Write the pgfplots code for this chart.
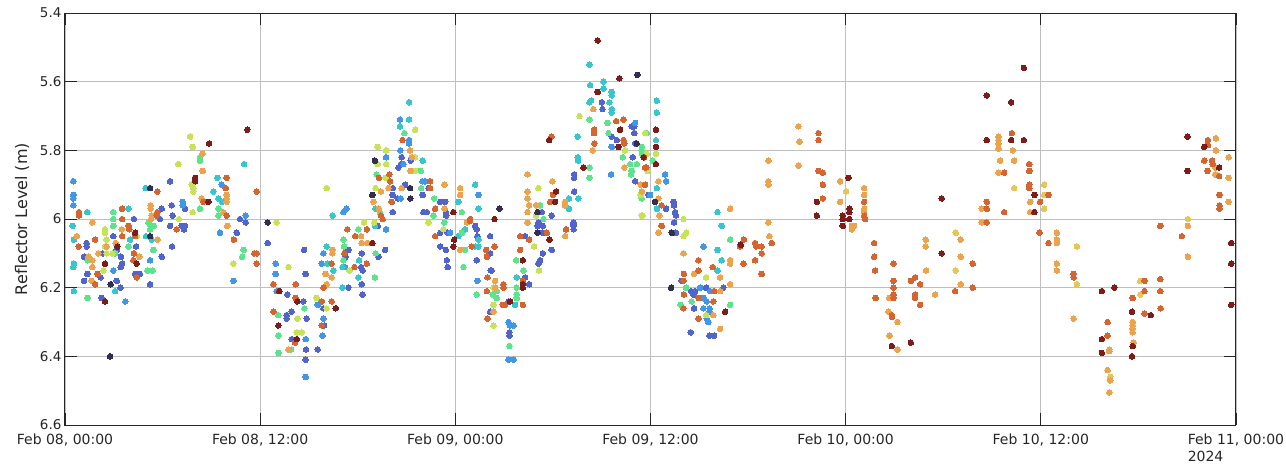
\documentclass[border=0pt]{standalone}
\usepackage{fontspec}
\setmainfont{DejaVu Sans}
\usepackage{pgfplots}
\pgfplotsset{compat=1.18}
\definecolor{cN}{RGB}{50,46,82}
\definecolor{cB}{RGB}{80,100,203}
\definecolor{cL}{RGB}{66,150,230}
\definecolor{cC}{RGB}{55,198,203}
\definecolor{cG}{RGB}{92,227,140}
\definecolor{cY}{RGB}{200,226,88}
\definecolor{cP}{RGB}{228,198,92}
\definecolor{cO}{RGB}{236,163,78}
\definecolor{cR}{RGB}{212,100,48}
\definecolor{cK}{RGB}{125,28,24}
\pgfplotsset{dots/.style={only marks, mark=*, mark size=2.8pt, color=#1, mark options={draw=#1, fill=#1, line width=0pt}}}
\begin{document}
\begin{tikzpicture}
\begin{axis}[
  name=ax,
  scale only axis, width=1171pt, height=412pt,
  xmin=0, xmax=72, ymin=5.4, ymax=6.6, y dir=reverse,
  xtick={0,12,24,36,48,60,72},
  xticklabels={{Feb 08, 00:00},{Feb 08, 12:00},{Feb 09, 00:00},{Feb 09, 12:00},{Feb 10, 00:00},{Feb 10, 12:00},{Feb 11, 00:00\\2024}},
  ytick={5.4,5.6,5.8,6.0,6.2,6.4,6.6},
  yticklabels={5.4,5.6,5.8,6,6.2,6.4,6.6},
  /pgf/number format/assume math mode=true,
  yticklabel style={font=\fontsize{13.5}{15}\selectfont, text=black!85},
  xticklabel style={align=left, font=\fontsize{14}{17}\selectfont, text=black!85, yshift=-5pt},
  ylabel={Reflector Level (m)},
  ylabel style={font=\fontsize{16}{18}\selectfont, text=black!85},
  ylabel shift=4pt,
  grid=major, major grid style={black!25, line width=0.7pt},
  tick align=inside, major tick length=11.7pt,
  tick style={black!85, line width=0.8pt},
  axis line style={black!85, line width=1pt},
]
\addplot[dots=cB] coordinates {
(1.33,6.07)(1.33,6.08)(1.17,6.11)(1.17,6.18)(1.37,6.16)(2.26,6.23)(2.19,6.17)(2.32,6.10)(2.97,6.05)(3.18,6.09)(3.18,6.18)(3.42,6.20)(3.44,6.11)(3.51,6.13)(3.42,6.14)(4.24,6.00)(4.37,6.08)(4.31,6.16)(4.61,6.16)(5.23,6.19)(5.95,5.97)(5.84,6.00)(6.46,5.89)(6.56,5.96)(6.62,5.99)(6.46,6.02)(6.58,6.08)(7.38,5.97)(7.18,6.02)(7.38,6.02)(7.32,6.03)(5.95,6.11)(10.76,6.00)(11.11,6.01)(10.56,6.04)
(12.46,6.07)(13.67,6.22)(14.70,6.09)(14.80,6.16)(13.63,6.28)(13.63,6.29)(13.94,6.27)(14.66,6.24)(14.86,6.29)(13.94,6.35)(14.82,6.38)(14.80,6.41)(15.54,6.38)(15.89,6.26)(15.93,6.31)(17.32,6.09)(17.42,6.09)(17.26,6.11)(17.42,6.20)(18.25,6.10)(18.21,6.14)(18.31,6.15)(18.25,6.19)(18.29,6.22)(19.27,6.11)(19.68,6.09)(19.23,6.02)(20.15,5.91)(20.15,5.93)(20.15,5.98)(20.46,5.94)(20.91,5.90)(20.50,5.85)(20.66,5.84)(20.70,5.82)(21.26,5.83)(22.35,5.91)(22.00,5.93)(22.04,5.98)(22.25,5.98)(23.07,5.95)(23.38,5.95)(23.42,5.98)(23.44,5.99)(23.07,6.04)(23.53,6.04)(23.07,6.08)(23.42,6.09)(23.48,6.12)(23.53,6.14)
(25.22,6.02)(25.32,6.03)(25.36,6.05)(25.32,6.12)(26.14,6.05)(26.14,6.10)(26.18,6.15)(26.24,6.15)(27.27,6.24)(26.14,6.27)(27.33,6.33)(27.33,6.34)(28.29,6.17)(28.54,6.19)(28.29,6.05)(29.11,6.13)(29.21,6.12)(29.38,6.10)(29.32,5.98)(29.11,6.01)(29.05,6.02)(29.38,6.02)(29.38,6.04)(29.93,6.09)(29.93,5.99)(31.27,6.01)(31.27,6.015)(31.27,6.02)(31.27,6.03)(31.31,5.92)(31.31,5.87)(31.31,5.88)(33.01,5.66)(33.05,5.68)(34.85,5.73)(35.00,5.73)(35.00,5.75)(33.62,5.76)(33.93,5.77)(34.91,5.82)(35.06,5.78)(35.06,5.89)(35.88,5.93)
(36.96,5.97)(37.41,5.95)(37.45,5.96)(37.51,5.98)(37.57,5.99)(37.45,6.01)(37.57,6.04)(37.92,6.18)(38.50,6.21)(38.74,6.21)(39.42,6.20)(40.48,6.20)(38.64,6.22)(38.68,6.26)(38.48,6.33)(39.63,6.34)(39.91,6.34)
};
\addplot[dots=cL] coordinates {
(0.51,5.89)(0.51,5.93)(0.51,5.94)(0.51,5.96)(2.97,6.15)(3.71,6.24)(5.23,6.12)(7.24,5.95)(7.24,5.96)(9.64,5.90)(9.53,6.04)(11.11,5.99)(10.35,6.18)
(12.96,6.13)(12.96,6.16)(13.02,6.21)(14.80,6.35)(14.80,6.46)(15.54,6.25)(15.89,6.29)(15.83,6.34)(15.89,6.10)(15.79,6.13)(17.12,5.98)(17.32,5.97)(17.22,6.14)(19.74,6.03)(19.74,5.82)(20.62,5.80)(21.16,5.77)(21.16,5.78)(20.81,5.84)(20.60,5.71)(20.64,5.94)(21.98,5.89)(22.14,5.89)
(23.68,6.04)(25.42,5.93)(25.36,6.18)(27.27,6.30)(27.37,6.31)(27.58,6.31)(27.27,6.41)(27.58,6.41)(35.06,5.72)(33.62,5.79)(33.58,5.87)
(36.90,5.87)(36.96,5.89)(35.98,5.93)(39.26,6.08)(39.05,6.20)(39.67,6.21)(39.26,6.23)(39.46,6.24)(39.26,6.26)(39.63,6.26)(39.63,6.27)(39.46,6.29)(39.56,6.30)
};
\addplot[dots=cC] coordinates {
(0.47,6.02)(0.55,6.06)(0.55,6.13)(0.51,6.14)(0.55,6.21)(1.37,5.98)(3.08,6.21)(3.90,5.97)(4.00,6.06)(4.96,5.91)(4.98,6.05)(5.33,6.06)(9.37,5.88)(9.12,5.92)(9.43,5.94)(9.64,5.95)(11.01,5.84)
(16.09,5.91)(16.46,5.99)(16.09,6.08)(16.13,6.13)(16.50,6.15)(17.06,6.14)(17.06,6.20)(18.08,6.12)(18.04,6.17)(19.06,6.02)(19.10,5.97)(20.60,5.73)(21.16,5.71)(21.16,5.66)(22.00,5.83)
(24.19,5.95)(24.60,6.03)(24.19,6.05)(25.22,5.90)(25.42,5.97)(25.42,6.06)(25.22,6.08)(25.42,6.08)(27.68,6.25)(27.78,6.17)(30.99,5.94)(30.99,5.97)(31.57,5.94)(31.53,5.82)(31.55,5.83)(31.53,5.76)(32.25,5.66)(32.35,5.655)(32.29,5.61)(32.25,5.55)(33.11,5.60)(33.11,5.62)(33.62,5.63)(33.62,5.64)(33.48,5.66)(33.62,5.68)(33.62,5.69)
(36.39,5.655)(36.39,5.69)(36.34,5.77)(36.39,5.91)(36.39,5.97)(40.12,5.98)(40.38,6.02)(40.12,6.09)(40.12,6.15)(40.38,6.12)
};
\addplot[dots=cG] coordinates {
(1.39,6.12)(1.39,6.23)(2.97,5.98)(2.97,6.00)(2.97,6.02)(3.08,6.10)(3.90,6.08)(5.13,6.01)(5.27,6.02)(5.47,6.02)(5.23,6.03)(5.43,6.09)(5.39,6.15)(5.06,6.15)(8.30,5.82)(8.30,5.83)(8.30,5.97)(9.43,5.97)(9.43,5.99)(10.99,6.09)(10.89,6.11)
(13.12,6.28)(13.12,6.34)(13.12,6.39)(13.90,6.38)(14.72,6.26)(17.12,6.06)(17.16,6.08)(17.12,6.12)(18.04,6.03)(19.10,6.10)(19.06,6.17)(19.37,5.98)(19.16,5.87)(20.87,5.75)(21.88,5.86)(21.90,5.91)(22.70,5.94)(22.66,5.99)(23.33,6.01)
(24.40,5.98)(24.40,6.04)(24.60,6.09)(24.50,6.14)(25.32,6.22)(26.55,6.21)(26.30,6.22)(26.55,6.23)(27.33,6.37)(27.78,6.20)(27.78,6.22)(27.78,6.23)(27.74,6.12)(28.19,6.15)(29.21,5.96)(29.42,6.00)(32.25,5.85)(32.25,5.88)(32.25,5.71)(33.36,5.72)(33.42,5.75)(34.30,5.82)(35.47,5.79)(35.47,5.81)(35.78,5.75)(34.75,5.84)(34.85,5.86)(34.81,5.87)(35.16,5.84)
(36.14,5.83)(35.46,5.80)(35.46,5.94)(38.19,6.20)(38.54,6.24)(37.86,6.25)(40.90,6.06)(40.90,6.25)
};
\addplot[dots=cY] coordinates {
(2.36,6.15)(2.56,6.10)(2.46,6.08)(2.56,6.06)(2.46,6.04)(2.46,6.03)(2.91,6.10)(4.41,6.05)(7.01,6.00)(7.69,5.76)(7.85,5.79)(6.97,5.84)(7.79,5.90)(7.89,5.91)(7.89,5.92)(7.85,5.98)(10.35,6.13)
(13.02,6.01)(13.74,6.14)(14.29,6.29)(14.25,6.33)(14.56,6.33)(15.48,6.23)(16.09,6.26)(16.09,5.91)(17.49,6.15)(18.39,6.01)(19.02,6.01)(19.10,5.91)(19.23,5.84)(19.23,5.79)(19.74,5.80)(19.74,5.84)(19.72,5.88)(21.53,5.74)(21.53,5.82)(21.53,5.86)(22.35,6.01)(23.27,6.03)
(26.35,6.20)(26.35,6.25)(26.35,6.31)(28.84,6.08)(29.15,6.15)(29.11,5.91)(28.97,5.99)(31.64,5.70)(34.44,5.80)(35.78,5.81)(35.40,5.93)(35.51,5.99)
(35.67,5.75)(36.34,5.81)(35.81,5.86)(35.46,5.99)(38.03,6.00)(38.19,6.04)(38.03,6.05)(39.42,6.17)(39.42,6.28)
};
\addplot[dots=cP] coordinates {
(48.03,5.92)(54.77,6.04)(54.77,6.15)(58.36,5.91)(60.21,5.90)(60.21,5.93)(60.21,5.97)
(62.22,6.08)(62.22,6.19)(64.27,6.46)(66.12,6.18)(66.12,6.22)(69.05,6.00)
};
\addplot[dots=cO] coordinates {
(0.72,6.05)(1.44,6.11)(1.68,6.01)(1.68,6.12)(1.68,6.14)(1.64,6.18)(2.05,6.10)(2.56,6.08)(3.12,6.07)(3.49,6.03)(4.57,6.11)(5.27,5.96)(5.27,5.97)(5.33,5.99)(5.29,6.00)(5.70,6.06)(8.45,5.81)(8.47,5.86)(8.41,5.94)(9.94,5.93)(9.94,5.94)(9.94,5.95)(9.74,5.98)(9.98,6.02)
(13.74,6.38)(16.44,6.09)(16.44,6.10)(16.03,6.16)(16.40,6.17)(16.09,6.19)(18.21,6.05)(18.25,6.07)(18.60,6.07)(18.96,5.95)(19.30,5.97)(19.43,5.92)(19.89,5.91)(20.70,5.91)(21.22,5.80)(21.32,5.82)(21.24,5.86)(23.33,5.90)(23.33,5.97)
(24.30,5.91)(24.30,5.93)(24.71,6.01)(24.30,6.09)(26.45,6.18)(26.45,6.20)(26.35,6.27)(28.44,5.98)(28.44,6.01)(28.44,5.94)(28.44,5.92)(28.44,5.87)(28.54,5.96)(28.97,5.96)(29.97,5.89)(30.75,5.95)(30.75,5.96)(30.75,6.05)(32.49,5.68)(32.45,5.80)(34.39,5.85)(35.40,5.90)(35.47,5.92)
(36.49,5.89)(36.49,5.94)(36.55,5.99)(36.49,6.04)(38.03,6.10)(40.90,5.97)(38.68,6.16)(40.28,6.17)(40.90,6.12)(40.90,6.13)(40.28,6.21)(40.90,6.19)(39.87,6.28)(40.28,6.32)(43.25,5.83)(43.25,5.89)(43.25,5.90)(43.25,6.01)(43.31,6.05)(45.10,5.73)(45.16,5.775)(45.10,5.845)(47.66,5.89)(47.66,5.95)
(48.38,6.02)(48.52,6.02)(48.38,6.03)(49.14,5.91)(49.14,5.93)(49.14,5.97)(49.14,5.98)(50.69,6.23)(50.63,6.27)(51.19,6.30)(50.69,6.34)(51.19,6.38)(52.95,6.15)(53.50,6.22)(52.93,6.06)(52.93,6.08)(55.08,6.06)(55.08,6.11)(55.08,6.19)(56.37,5.97)(56.37,6.01)(57.40,5.76)(57.40,5.77)(57.40,5.78)(57.40,5.795)(57.40,5.865)(57.50,5.83)(58.28,5.80)(58.36,5.83)(59.35,5.95)(59.35,5.98)
(60.99,6.04)(60.99,6.06)(60.99,6.07)(60.99,6.13)(60.99,6.15)(62.02,6.29)(64.21,6.38)(64.21,6.385)(64.11,6.44)(64.27,6.47)(64.21,6.505)(65.65,6.30)(65.65,6.31)(65.65,6.32)(65.65,6.33)(65.71,6.36)(69.05,6.02)(69.05,6.11)(70.77,5.765)(70.77,5.80)(70.73,5.85)(70.73,5.87)(71.55,5.82)(71.55,5.88)(71.55,5.95)
};
\addplot[dots=cR] coordinates {
(0.86,5.98)(0.86,5.99)(0.84,6.08)(1.85,6.06)(1.85,6.19)(2.01,6.16)(3.51,5.97)(3.51,6.00)(3.51,6.05)(3.90,6.02)(3.96,6.03)(4.31,6.05)(4.24,6.10)(4.20,6.12)(4.41,6.17)(5.68,5.92)(5.68,5.98)(5.64,5.99)(6.87,6.03)(8.51,5.95)(9.94,5.88)(9.88,5.91)(9.94,5.99)(10.39,6.06)(11.79,5.92)(11.64,6.10)(11.79,6.13)(11.79,6.10)
(12.81,6.19)(13.12,6.21)(14.19,6.19)(12.81,6.27)(14.19,6.23)(14.15,6.36)(15.79,6.24)(15.79,6.31)(16.40,6.24)(16.40,6.13)(15.89,6.20)(17.36,6.03)(17.18,6.10)(17.84,6.05)(18.56,6.03)(18.56,6.13)(17.80,6.14)(19.43,5.99)(19.53,6.00)(19.30,5.88)(19.95,5.87)(19.99,5.89)(20.09,5.95)(20.75,5.77)(22.45,5.89)(22.45,5.91)(22.76,5.97)(22.76,6.05)
(24.91,6.00)(24.91,6.005)(25.01,6.08)(25.89,6.09)(25.94,6.11)(26.41,6.08)(25.98,6.17)(25.94,6.21)(26.96,6.19)(26.96,6.20)(26.92,6.25)(27.06,6.25)(25.98,6.29)(28.15,6.18)(28.15,6.25)(27.99,6.09)(27.99,6.05)(28.54,6.06)(29.63,6.04)(29.83,5.95)(30.00,5.93)(29.93,5.76)(30.81,6.03)(32.53,5.74)(32.53,5.75)(32.55,5.78)(33.89,5.715)(34.34,5.71)(34.34,5.77)(34.39,5.78)(35.74,5.85)
(35.61,5.82)(35.67,5.85)(35.67,5.90)(36.69,5.96)(36.69,6.02)(38.95,6.12)(38.95,6.15)(38.06,6.16)(39.83,6.14)(38.03,6.18)(39.91,6.21)(38.06,6.22)(38.95,6.23)(39.87,6.24)(38.03,6.26)(38.95,6.29)(41.51,6.08)(41.75,6.06)(42.43,6.07)(42.84,6.08)(42.50,6.08)(42.84,6.10)(42.43,6.12)(41.72,6.13)(42.84,6.16)(43.46,6.07)(46.33,5.75)(46.33,5.77)(46.33,5.86)(46.60,5.865)(46.60,5.90)(46.60,5.94)
(49.14,5.95)(49.14,5.99)(49.20,6.00)(49.75,6.07)(49.75,6.11)(49.81,6.15)(49.85,6.23)(50.94,6.13)(50.94,6.18)(50.94,6.20)(50.94,6.22)(50.94,6.23)(50.84,6.28)(50.84,6.285)(52.01,6.18)(52.27,6.17)(52.58,6.19)(52.27,6.22)(52.27,6.23)(52.58,6.25)(54.73,6.21)(55.82,6.13)(55.82,6.20)(56.68,5.95)(56.68,5.97)(56.68,6.01)(57.75,5.865)(57.75,5.98)(58.22,5.75)(59.29,5.84)(59.29,5.86)(59.29,5.90)(59.29,5.91)(59.96,5.95)(59.92,6.04)(60.47,5.93)(60.47,6.07)
(62.02,6.16)(62.02,6.17)(64.11,6.30)(64.11,6.34)(65.65,6.23)(66.38,6.18)(66.38,6.21)(66.38,6.275)(67.35,6.175)(67.35,6.21)(67.37,6.26)(67.35,6.02)(68.68,6.05)(70.28,5.77)(70.28,5.785)(70.05,5.83)(70.53,5.83)(70.57,5.84)(70.26,5.86)(70.97,5.875)(70.99,5.93)(70.99,5.96)(70.99,5.97)
};
\addplot[dots=cK] coordinates {
(2.46,6.24)(2.46,6.13)(3.22,6.08)(4.31,6.04)(4.41,6.13)(8.86,5.78)(8.00,5.88)(8.00,5.89)(8.82,5.95)(11.21,5.74)
(13.18,6.21)(13.12,6.31)(14.29,6.24)(14.25,6.35)(16.65,6.26)(18.90,6.07)(23.88,5.98)(23.88,6.08)
(23.93,6.06)(26.41,6.00)(27.37,6.24)(28.15,6.20)(28.15,6.19)(28.15,6.12)(29.79,6.06)(30.14,5.95)(30.20,5.92)(29.77,5.77)(31.88,5.85)(32.76,5.48)(32.76,5.63)(34.09,5.59)(34.13,5.74)(34.03,5.79)(35.57,5.82)
(36.34,5.74)(36.34,5.79)(36.34,5.84)(40.59,6.27)(41.55,6.075)(46.23,5.95)(46.23,5.99)(48.17,5.88)(47.82,5.99)(47.82,6.00)(47.82,6.02)(48.23,5.98)(48.23,6.00)
(48.23,5.97)(50.84,6.37)(52.01,6.36)(53.91,5.94)(53.91,6.10)(56.68,5.64)(56.68,5.77)(58.18,5.66)(58.18,5.77)(58.96,5.56)(58.96,5.77)(59.61,5.93)(59.61,5.98)
(63.76,6.21)(64.52,6.20)(63.76,6.35)(63.76,6.39)(65.61,6.27)(65.65,6.37)(65.61,6.40)(66.77,6.28)(69.03,5.76)(69.03,5.86)(70.05,5.79)(70.97,5.85)(71.71,6.07)(71.71,6.13)(71.71,6.25)
};
\addplot[dots=cN] coordinates {
(2.77,6.40)(2.81,6.19)(5.23,5.91)(5.23,6.05)(12.46,6.01)(18.90,5.93)(19.06,5.83)(21.22,5.91)(21.24,5.94)(26.71,5.97)(29.05,5.98)(29.05,6.04)(35.20,5.58)(35.16,5.78)(36.28,5.95)(37.31,6.04)(37.27,6.20)
};
\end{axis}
\pgfresetboundingbox
\path[use as bounding box] ([shift={(-65pt,-42pt)}]ax.south west) rectangle ([shift={(1221pt,425pt)}]ax.south west);
\end{tikzpicture}
\end{document}
